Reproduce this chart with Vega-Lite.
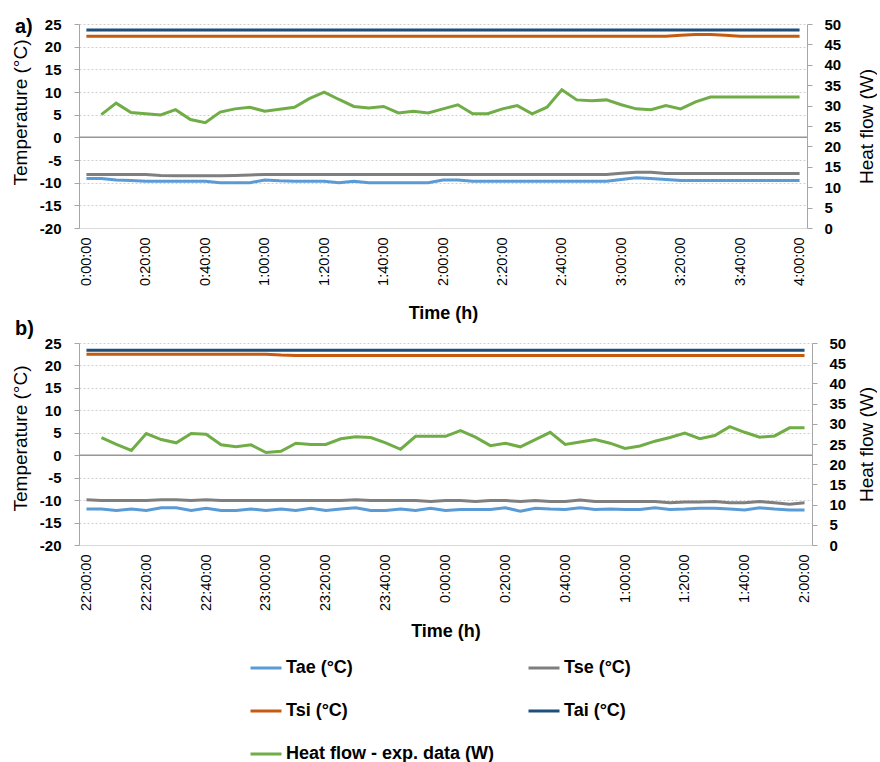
{
  "$schema": "https://vega.github.io/schema/vega-lite/v6.json",
  "autosize": {"type": "pad"},
  "padding": {"left": 11, "top": 17, "right": 0, "bottom": 0},
  "background": "white",
  "bounds": "flush",
  "spacing": 115,
  "config": {
    "font": "Liberation Sans",
    "view": {"stroke": null},
    "axis": {"labelFont": "Liberation Sans", "titleFont": "Liberation Sans", "labelColor": "#000000", "titleColor": "#000000", "domainColor": "#A6A6A6", "tickColor": "#A6A6A6"},
    "axisY": {"labelOverlap": false, "labelFlush": false}
  },
  "datasets": {
    "a": [
      {"m": 0, "Tae": -9.1, "Tse": -8.2, "Tsi": 22.3, "Tai": 23.7, "HF": null},
      {"m": 5, "Tae": -9.1, "Tse": -8.2, "Tsi": 22.3, "Tai": 23.7, "HF": 27.8},
      {"m": 10, "Tae": -9.4, "Tse": -8.2, "Tsi": 22.3, "Tai": 23.7, "HF": 30.6},
      {"m": 15, "Tae": -9.5, "Tse": -8.2, "Tsi": 22.3, "Tai": 23.7, "HF": 28.3},
      {"m": 20, "Tae": -9.7, "Tse": -8.2, "Tsi": 22.3, "Tai": 23.7, "HF": 28.0},
      {"m": 25, "Tae": -9.7, "Tse": -8.4, "Tsi": 22.3, "Tai": 23.7, "HF": 27.7},
      {"m": 30, "Tae": -9.7, "Tse": -8.5, "Tsi": 22.3, "Tai": 23.7, "HF": 29.0},
      {"m": 35, "Tae": -9.7, "Tse": -8.5, "Tsi": 22.3, "Tai": 23.7, "HF": 26.6},
      {"m": 40, "Tae": -9.7, "Tse": -8.5, "Tsi": 22.3, "Tai": 23.7, "HF": 25.8},
      {"m": 45, "Tae": -10.0, "Tse": -8.5, "Tsi": 22.3, "Tai": 23.7, "HF": 28.4},
      {"m": 50, "Tae": -10.0, "Tse": -8.4, "Tsi": 22.3, "Tai": 23.7, "HF": 29.2},
      {"m": 55, "Tae": -10.0, "Tse": -8.3, "Tsi": 22.3, "Tai": 23.7, "HF": 29.6},
      {"m": 60, "Tae": -9.4, "Tse": -8.2, "Tsi": 22.3, "Tai": 23.7, "HF": 28.6},
      {"m": 65, "Tae": -9.6, "Tse": -8.2, "Tsi": 22.3, "Tai": 23.7, "HF": 29.1},
      {"m": 70, "Tae": -9.7, "Tse": -8.2, "Tsi": 22.3, "Tai": 23.7, "HF": 29.6},
      {"m": 75, "Tae": -9.7, "Tse": -8.2, "Tsi": 22.3, "Tai": 23.7, "HF": 31.7},
      {"m": 80, "Tae": -9.7, "Tse": -8.2, "Tsi": 22.3, "Tai": 23.7, "HF": 33.3},
      {"m": 85, "Tae": -10.0, "Tse": -8.2, "Tsi": 22.3, "Tai": 23.7, "HF": 31.5},
      {"m": 90, "Tae": -9.7, "Tse": -8.2, "Tsi": 22.3, "Tai": 23.7, "HF": 29.8},
      {"m": 95, "Tae": -10.0, "Tse": -8.2, "Tsi": 22.3, "Tai": 23.7, "HF": 29.4},
      {"m": 100, "Tae": -10.0, "Tse": -8.2, "Tsi": 22.3, "Tai": 23.7, "HF": 29.8},
      {"m": 105, "Tae": -10.0, "Tse": -8.2, "Tsi": 22.3, "Tai": 23.7, "HF": 28.2},
      {"m": 110, "Tae": -10.0, "Tse": -8.2, "Tsi": 22.3, "Tai": 23.7, "HF": 28.6},
      {"m": 115, "Tae": -10.0, "Tse": -8.2, "Tsi": 22.3, "Tai": 23.7, "HF": 28.2},
      {"m": 120, "Tae": -9.4, "Tse": -8.2, "Tsi": 22.3, "Tai": 23.7, "HF": 29.2},
      {"m": 125, "Tae": -9.4, "Tse": -8.2, "Tsi": 22.3, "Tai": 23.7, "HF": 30.2},
      {"m": 130, "Tae": -9.7, "Tse": -8.2, "Tsi": 22.3, "Tai": 23.7, "HF": 28.0},
      {"m": 135, "Tae": -9.7, "Tse": -8.2, "Tsi": 22.3, "Tai": 23.7, "HF": 28.0},
      {"m": 140, "Tae": -9.7, "Tse": -8.2, "Tsi": 22.3, "Tai": 23.7, "HF": 29.2},
      {"m": 145, "Tae": -9.7, "Tse": -8.2, "Tsi": 22.3, "Tai": 23.7, "HF": 30.0},
      {"m": 150, "Tae": -9.7, "Tse": -8.2, "Tsi": 22.3, "Tai": 23.7, "HF": 28.0},
      {"m": 155, "Tae": -9.7, "Tse": -8.2, "Tsi": 22.3, "Tai": 23.7, "HF": 29.6},
      {"m": 160, "Tae": -9.7, "Tse": -8.2, "Tsi": 22.3, "Tai": 23.7, "HF": 33.9},
      {"m": 165, "Tae": -9.7, "Tse": -8.2, "Tsi": 22.3, "Tai": 23.7, "HF": 31.4},
      {"m": 170, "Tae": -9.7, "Tse": -8.2, "Tsi": 22.3, "Tai": 23.7, "HF": 31.2},
      {"m": 175, "Tae": -9.7, "Tse": -8.2, "Tsi": 22.3, "Tai": 23.7, "HF": 31.4},
      {"m": 180, "Tae": -9.3, "Tse": -7.9, "Tsi": 22.3, "Tai": 23.7, "HF": 30.2},
      {"m": 185, "Tae": -8.9, "Tse": -7.7, "Tsi": 22.3, "Tai": 23.7, "HF": 29.2},
      {"m": 190, "Tae": -9.1, "Tse": -7.7, "Tsi": 22.3, "Tai": 23.7, "HF": 29.0},
      {"m": 195, "Tae": -9.3, "Tse": -8.0, "Tsi": 22.3, "Tai": 23.7, "HF": 30.0},
      {"m": 200, "Tae": -9.5, "Tse": -8.0, "Tsi": 22.5, "Tai": 23.7, "HF": 29.2},
      {"m": 205, "Tae": -9.5, "Tse": -8.0, "Tsi": 22.7, "Tai": 23.7, "HF": 30.9},
      {"m": 210, "Tae": -9.5, "Tse": -8.0, "Tsi": 22.7, "Tai": 23.7, "HF": 32.1},
      {"m": 215, "Tae": -9.5, "Tse": -8.0, "Tsi": 22.5, "Tai": 23.7, "HF": 32.1},
      {"m": 220, "Tae": -9.5, "Tse": -8.0, "Tsi": 22.3, "Tai": 23.7, "HF": 32.1},
      {"m": 225, "Tae": -9.5, "Tse": -8.0, "Tsi": 22.3, "Tai": 23.7, "HF": 32.1},
      {"m": 230, "Tae": -9.5, "Tse": -8.0, "Tsi": 22.3, "Tai": 23.7, "HF": 32.1},
      {"m": 235, "Tae": -9.5, "Tse": -8.0, "Tsi": 22.3, "Tai": 23.7, "HF": 32.1},
      {"m": 240, "Tae": -9.5, "Tse": -8.0, "Tsi": 22.3, "Tai": 23.7, "HF": 32.1}
    ],
    "b": [
      {"m": 0, "Tae": -12.0, "Tse": -9.9, "Tsi": 22.5, "Tai": 23.4, "HF": null},
      {"m": 5, "Tae": -12.0, "Tse": -10.1, "Tsi": 22.5, "Tai": 23.4, "HF": 26.6},
      {"m": 10, "Tae": -12.3, "Tse": -10.1, "Tsi": 22.5, "Tai": 23.4, "HF": 24.9},
      {"m": 15, "Tae": -12.0, "Tse": -10.1, "Tsi": 22.5, "Tai": 23.4, "HF": 23.4},
      {"m": 20, "Tae": -12.3, "Tse": -10.1, "Tsi": 22.5, "Tai": 23.4, "HF": 27.6},
      {"m": 25, "Tae": -11.7, "Tse": -9.9, "Tsi": 22.5, "Tai": 23.4, "HF": 26.1},
      {"m": 30, "Tae": -11.7, "Tse": -9.9, "Tsi": 22.5, "Tai": 23.4, "HF": 25.3},
      {"m": 35, "Tae": -12.3, "Tse": -10.1, "Tsi": 22.5, "Tai": 23.4, "HF": 27.6},
      {"m": 40, "Tae": -11.8, "Tse": -9.9, "Tsi": 22.5, "Tai": 23.4, "HF": 27.4},
      {"m": 45, "Tae": -12.3, "Tse": -10.1, "Tsi": 22.5, "Tai": 23.4, "HF": 24.8},
      {"m": 50, "Tae": -12.3, "Tse": -10.1, "Tsi": 22.5, "Tai": 23.4, "HF": 24.3},
      {"m": 55, "Tae": -12.0, "Tse": -10.1, "Tsi": 22.5, "Tai": 23.4, "HF": 24.8},
      {"m": 60, "Tae": -12.3, "Tse": -10.1, "Tsi": 22.5, "Tai": 23.4, "HF": 22.9},
      {"m": 65, "Tae": -12.0, "Tse": -10.1, "Tsi": 22.3, "Tai": 23.4, "HF": 23.2},
      {"m": 70, "Tae": -12.3, "Tse": -10.1, "Tsi": 22.2, "Tai": 23.4, "HF": 25.2},
      {"m": 75, "Tae": -11.8, "Tse": -10.1, "Tsi": 22.2, "Tai": 23.4, "HF": 24.9},
      {"m": 80, "Tae": -12.3, "Tse": -10.1, "Tsi": 22.2, "Tai": 23.4, "HF": 24.9},
      {"m": 85, "Tae": -12.0, "Tse": -10.1, "Tsi": 22.2, "Tai": 23.4, "HF": 26.3},
      {"m": 90, "Tae": -11.7, "Tse": -9.9, "Tsi": 22.2, "Tai": 23.4, "HF": 26.8},
      {"m": 95, "Tae": -12.3, "Tse": -10.1, "Tsi": 22.2, "Tai": 23.4, "HF": 26.6},
      {"m": 100, "Tae": -12.3, "Tse": -10.1, "Tsi": 22.2, "Tai": 23.4, "HF": 25.3},
      {"m": 105, "Tae": -12.0, "Tse": -10.1, "Tsi": 22.2, "Tai": 23.4, "HF": 23.7},
      {"m": 110, "Tae": -12.3, "Tse": -10.1, "Tsi": 22.2, "Tai": 23.4, "HF": 26.9},
      {"m": 115, "Tae": -11.8, "Tse": -10.3, "Tsi": 22.2, "Tai": 23.4, "HF": 26.9},
      {"m": 120, "Tae": -12.3, "Tse": -10.1, "Tsi": 22.2, "Tai": 23.4, "HF": 26.9},
      {"m": 125, "Tae": -12.1, "Tse": -10.1, "Tsi": 22.2, "Tai": 23.4, "HF": 28.3},
      {"m": 130, "Tae": -12.1, "Tse": -10.3, "Tsi": 22.2, "Tai": 23.4, "HF": 26.7},
      {"m": 135, "Tae": -12.1, "Tse": -10.1, "Tsi": 22.2, "Tai": 23.4, "HF": 24.6},
      {"m": 140, "Tae": -11.7, "Tse": -10.1, "Tsi": 22.2, "Tai": 23.4, "HF": 25.2},
      {"m": 145, "Tae": -12.5, "Tse": -10.3, "Tsi": 22.2, "Tai": 23.4, "HF": 24.3},
      {"m": 150, "Tae": -11.8, "Tse": -10.1, "Tsi": 22.2, "Tai": 23.4, "HF": 26.1},
      {"m": 155, "Tae": -12.0, "Tse": -10.3, "Tsi": 22.2, "Tai": 23.4, "HF": 27.9},
      {"m": 160, "Tae": -12.1, "Tse": -10.3, "Tsi": 22.2, "Tai": 23.4, "HF": 24.9},
      {"m": 165, "Tae": -11.7, "Tse": -10.0, "Tsi": 22.2, "Tai": 23.4, "HF": 25.5},
      {"m": 170, "Tae": -12.1, "Tse": -10.3, "Tsi": 22.2, "Tai": 23.4, "HF": 26.1},
      {"m": 175, "Tae": -12.0, "Tse": -10.3, "Tsi": 22.2, "Tai": 23.4, "HF": 25.2},
      {"m": 180, "Tae": -12.1, "Tse": -10.3, "Tsi": 22.2, "Tai": 23.4, "HF": 23.9},
      {"m": 185, "Tae": -12.1, "Tse": -10.3, "Tsi": 22.2, "Tai": 23.4, "HF": 24.5},
      {"m": 190, "Tae": -11.7, "Tse": -10.3, "Tsi": 22.2, "Tai": 23.4, "HF": 25.7},
      {"m": 195, "Tae": -12.1, "Tse": -10.6, "Tsi": 22.2, "Tai": 23.4, "HF": 26.6},
      {"m": 200, "Tae": -12.0, "Tse": -10.4, "Tsi": 22.2, "Tai": 23.4, "HF": 27.7},
      {"m": 205, "Tae": -11.8, "Tse": -10.4, "Tsi": 22.2, "Tai": 23.4, "HF": 26.3},
      {"m": 210, "Tae": -11.8, "Tse": -10.3, "Tsi": 22.2, "Tai": 23.4, "HF": 27.1},
      {"m": 215, "Tae": -12.0, "Tse": -10.6, "Tsi": 22.2, "Tai": 23.4, "HF": 29.3},
      {"m": 220, "Tae": -12.2, "Tse": -10.6, "Tsi": 22.2, "Tai": 23.4, "HF": 27.9},
      {"m": 225, "Tae": -11.7, "Tse": -10.3, "Tsi": 22.2, "Tai": 23.4, "HF": 26.7},
      {"m": 230, "Tae": -12.0, "Tse": -10.6, "Tsi": 22.2, "Tai": 23.4, "HF": 27.0},
      {"m": 235, "Tae": -12.2, "Tse": -10.9, "Tsi": 22.2, "Tai": 23.4, "HF": 29.0},
      {"m": 240, "Tae": -12.2, "Tse": -10.6, "Tsi": 22.2, "Tai": 23.4, "HF": 29.0}
    ]
  },
  "vconcat": [
    {
      "width": 728,
      "height": 204,
      "data": {"name": "a"},
      "layer": [
        {
          "layer": [
            {
              "transform": [{"fold": ["Tae", "Tse", "Tsi", "Tai"], "as": ["series", "value"]}],
              "mark": {"type": "line", "strokeWidth": 3},
              "encoding": {
                "x": {"field": "m", "type": "quantitative", "scale": {"domain": [-2.5, 242.5], "nice": false, "zero": false},
                  "axis": {"title": "Time (h)", "values": [0, 20, 40, 60, 80, 100, 120, 140, 160, 180, 200, 220, 240], "labelExpr": "floor(datum.value/60) + ':' + format(datum.value % 60, '02d') + ':00'", "labelAngle": 270, "ticks": false, "tickSize": 0, "labelPadding": 9, "grid": false, "domainColor": "#D9D9D9", "labelFontSize": 14.5, "titleFontSize": 18, "titleFontWeight": "bold", "titlePadding": 19, "labelFlush": false, "labelOverlap": false}},
                "y": {"field": "value", "type": "quantitative", "scale": {"domain": [-20, 25], "nice": false, "zero": false},
                  "axis": {"title": "Temperature (°C)", "values": [-20, -15, -10, -5, 0, 5, 10, 15, 20, 25], "tickCount": 10, "labelExpr": "datum.value < 0 ? '-' + abs(datum.value) : '' + datum.value", "labelOverlap": false, "labelFlush": false, "grid": true, "gridDash": [2, 2], "gridColor": "#D0D0D0", "tickSize": 5, "labelPadding": 13, "labelFontSize": 15, "labelFontWeight": "bold", "titleFontSize": 19, "titleFontWeight": "normal", "titlePadding": 9, "titleY": 88}},
                "color": {"field": "series", "type": "nominal",
                  "scale": {"domain": ["Tae", "Tsi", "HF", "Tse", "Tai"], "range": ["#5B9BD5", "#C55A11", "#70AD47", "#7F7F7F", "#1F4E79"]},
                  "legend": {"orient": "none", "legendX": 170, "legendY": 627, "columns": 2, "title": null, "symbolType": "stroke", "symbolSize": 961, "symbolStrokeWidth": 3, "labelFontSize": 18, "labelFontWeight": "bold", "labelColor": "#000000", "labelOffset": 3, "columnPadding": 27, "rowPadding": 17, "labelLimit": 400, "labelExpr": "datum.label == 'HF' ? 'Heat flow - exp. data (W)' : datum.label + ' (°C)'"}}
              }
            },
            {
              "data": {"values": [{"value": 0}]},
              "mark": {"type": "rule", "color": "#969696", "strokeWidth": 1.5},
              "encoding": {"y": {"field": "value", "type": "quantitative",
                  "axis": {"title": "Temperature (°C)", "values": [-20, -15, -10, -5, 0, 5, 10, 15, 20, 25], "tickCount": 10, "labelExpr": "datum.value < 0 ? '-' + abs(datum.value) : '' + datum.value", "labelOverlap": false, "labelFlush": false, "grid": true, "gridDash": [2, 2], "gridColor": "#D0D0D0", "tickSize": 5, "labelPadding": 13, "labelFontSize": 15, "labelFontWeight": "bold", "titleFontSize": 19, "titleFontWeight": "normal", "titlePadding": 9, "titleY": 88}}}
            },
            {
              "data": {"values": [{"value": 25, "m": -2.5, "label": "a)"}]},
              "mark": {"type": "text", "fontSize": 20, "fontWeight": "bold", "align": "left", "baseline": "alphabetic", "dx": -64, "dy": 9, "color": "#000000", "font": "Liberation Sans"},
              "encoding": {"x": {"field": "m", "type": "quantitative"}, "y": {"field": "value", "type": "quantitative",
                  "axis": {"title": "Temperature (°C)", "values": [-20, -15, -10, -5, 0, 5, 10, 15, 20, 25], "tickCount": 10, "labelExpr": "datum.value < 0 ? '-' + abs(datum.value) : '' + datum.value", "labelOverlap": false, "labelFlush": false, "grid": true, "gridDash": [2, 2], "gridColor": "#D0D0D0", "tickSize": 5, "labelPadding": 13, "labelFontSize": 15, "labelFontWeight": "bold", "titleFontSize": 19, "titleFontWeight": "normal", "titlePadding": 9, "titleY": 88}}, "text": {"field": "label"}}
            }
          ]
        },
        {
          "transform": [{"fold": ["HF"], "as": ["series", "value"]}],
          "mark": {"type": "line", "strokeWidth": 3},
          "encoding": {
            "x": {"field": "m", "type": "quantitative"},
            "y": {"field": "value", "type": "quantitative", "scale": {"domain": [0, 50], "nice": false, "zero": false},
              "axis": {"orient": "right", "title": "Heat flow (W)", "values": [0, 5, 10, 15, 20, 25, 30, 35, 40, 45, 50], "labelOverlap": false, "labelFlush": false, "grid": false, "tickSize": 5, "labelPadding": 12, "labelFontSize": 15, "labelFontWeight": "bold", "titleFontSize": 19, "titleFontWeight": "normal", "titleAngle": 270, "titleBaseline": "top", "titlePadding": 17}},
            "color": {"field": "series", "type": "nominal"}
          }
        }
      ],
      "resolve": {"scale": {"y": "independent"}}
    },
    {
      "width": 733,
      "height": 202,
      "data": {"name": "b"},
      "layer": [
        {
          "layer": [
            {
              "transform": [{"fold": ["Tae", "Tse", "Tsi", "Tai"], "as": ["series", "value"]}],
              "mark": {"type": "line", "strokeWidth": 3},
              "encoding": {
                "x": {"field": "m", "type": "quantitative", "scale": {"domain": [-2.5, 242.5], "nice": false, "zero": false},
                  "axis": {"title": "Time (h)", "values": [0, 20, 40, 60, 80, 100, 120, 140, 160, 180, 200, 220, 240], "labelExpr": "((22 + floor(datum.value/60)) % 24) + ':' + format(datum.value % 60, '02d') + ':00'", "labelAngle": 270, "ticks": false, "tickSize": 0, "labelPadding": 9, "grid": false, "domainColor": "#D9D9D9", "labelFontSize": 14.5, "titleFontSize": 18, "titleFontWeight": "bold", "titlePadding": 12, "labelFlush": false, "labelOverlap": false}},
                "y": {"field": "value", "type": "quantitative", "scale": {"domain": [-20, 25], "nice": false, "zero": false},
                  "axis": {"title": "Temperature (°C)", "values": [-20, -15, -10, -5, 0, 5, 10, 15, 20, 25], "tickCount": 10, "labelExpr": "datum.value < 0 ? '-' + abs(datum.value) : '' + datum.value", "labelOverlap": false, "labelFlush": false, "grid": true, "gridDash": [2, 2], "gridColor": "#D0D0D0", "tickSize": 5, "labelPadding": 13, "labelFontSize": 15, "labelFontWeight": "bold", "titleFontSize": 19, "titleFontWeight": "normal", "titlePadding": 9, "titleY": 95}},
                "color": {"field": "series", "type": "nominal",
                  "scale": {"domain": ["Tae", "Tsi", "HF", "Tse", "Tai"], "range": ["#5B9BD5", "#C55A11", "#70AD47", "#7F7F7F", "#1F4E79"]},
                  "legend": {"orient": "none", "legendX": 170, "legendY": 627, "columns": 2, "title": null, "symbolType": "stroke", "symbolSize": 961, "symbolStrokeWidth": 3, "labelFontSize": 18, "labelFontWeight": "bold", "labelColor": "#000000", "labelOffset": 3, "columnPadding": 27, "rowPadding": 17, "labelLimit": 400, "labelExpr": "datum.label == 'HF' ? 'Heat flow - exp. data (W)' : datum.label + ' (°C)'"}}
              }
            },
            {
              "data": {"values": [{"value": 0}]},
              "mark": {"type": "rule", "color": "#969696", "strokeWidth": 1.5},
              "encoding": {"y": {"field": "value", "type": "quantitative",
                  "axis": {"title": "Temperature (°C)", "values": [-20, -15, -10, -5, 0, 5, 10, 15, 20, 25], "tickCount": 10, "labelExpr": "datum.value < 0 ? '-' + abs(datum.value) : '' + datum.value", "labelOverlap": false, "labelFlush": false, "grid": true, "gridDash": [2, 2], "gridColor": "#D0D0D0", "tickSize": 5, "labelPadding": 13, "labelFontSize": 15, "labelFontWeight": "bold", "titleFontSize": 19, "titleFontWeight": "normal", "titlePadding": 9, "titleY": 95}}}
            },
            {
              "data": {"values": [{"value": 25, "m": -2.5, "label": "b)"}]},
              "mark": {"type": "text", "fontSize": 20, "fontWeight": "bold", "align": "left", "baseline": "alphabetic", "dx": -64, "dy": -8, "color": "#000000", "font": "Liberation Sans"},
              "encoding": {"x": {"field": "m", "type": "quantitative"}, "y": {"field": "value", "type": "quantitative",
                  "axis": {"title": "Temperature (°C)", "values": [-20, -15, -10, -5, 0, 5, 10, 15, 20, 25], "tickCount": 10, "labelExpr": "datum.value < 0 ? '-' + abs(datum.value) : '' + datum.value", "labelOverlap": false, "labelFlush": false, "grid": true, "gridDash": [2, 2], "gridColor": "#D0D0D0", "tickSize": 5, "labelPadding": 13, "labelFontSize": 15, "labelFontWeight": "bold", "titleFontSize": 19, "titleFontWeight": "normal", "titlePadding": 9, "titleY": 95}}, "text": {"field": "label"}}
            }
          ]
        },
        {
          "transform": [{"fold": ["HF"], "as": ["series", "value"]}],
          "mark": {"type": "line", "strokeWidth": 3},
          "encoding": {
            "x": {"field": "m", "type": "quantitative"},
            "y": {"field": "value", "type": "quantitative", "scale": {"domain": [0, 50], "nice": false, "zero": false},
              "axis": {"orient": "right", "title": "Heat flow (W)", "values": [0, 5, 10, 15, 20, 25, 30, 35, 40, 45, 50], "labelOverlap": false, "labelFlush": false, "grid": false, "tickSize": 5, "labelPadding": 12, "labelFontSize": 15, "labelFontWeight": "bold", "titleFontSize": 19, "titleFontWeight": "normal", "titleAngle": 270, "titleBaseline": "top", "titlePadding": 12}},
            "color": {"field": "series", "type": "nominal"}
          }
        }
      ],
      "resolve": {"scale": {"y": "independent"}}
    }
  ]
}
